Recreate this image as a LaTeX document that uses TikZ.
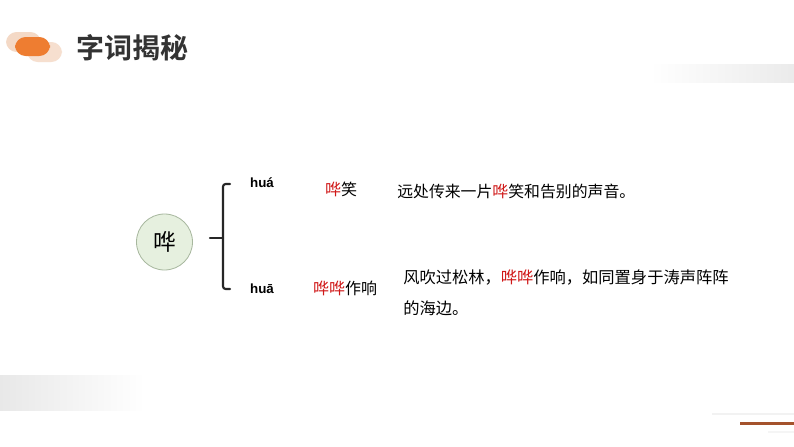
\documentclass[tikz,border=0pt]{standalone}
\usepackage{fontspec}
\setmainfont{Liberation Sans}
\newfontfamily\cjk{Noto Sans CJK SC}
\newfontfamily\cjkb{Noto Sans CJK SC Bold}
\usetikzlibrary{shapes.geometric}
\definecolor{hred}{HTML}{D01818}
\definecolor{orng}{HTML}{EE7D31}
\definecolor{peach}{HTML}{F4D9C6}
\definecolor{brownline}{HTML}{A4522C}
\definecolor{title}{HTML}{333333}
\definecolor{circfill}{HTML}{E6F0DF}
\definecolor{circline}{HTML}{A7B79E}
\tikzset{
  pinyin/.style={font=\bfseries\fontsize{10}{12}\selectfont, text=black, inner sep=0pt},
  word/.style={font=\cjk\fontsize{12}{14}\selectfont, text=black, inner sep=0pt},
  sent/.style={font=\cjk\fontsize{12.2}{14}\selectfont, text=black, inner sep=0pt, anchor=west},
  bracestroke/.style={line width=1.6pt, black!85, line cap=round, rounded corners=2pt}
}
\newcommand{\hr}[1]{\textcolor{hred}{#1}}
\begin{document}
\begin{tikzpicture}[x=0.75pt,y=-0.75pt]
\useasboundingbox (0,0) rectangle (794,447);
\fill[white] (0,0) rectangle (794,447);
% decorative bars
\shade[left color=white, right color=black!8] (650,64) rectangle (794,82);
\shade[left color=black!9, right color=white] (0,375) rectangle (145,410);
\fill[black!5] (712,413) rectangle (794,415);
\fill[brownline] (740,421.5) rectangle (794,424.5);
\fill[black!4] (768,431) rectangle (794,433);
% logo
\fill[peach, rounded corners=8pt] (6,32) rectangle (41,52);
\fill[peach!85, rounded corners=8pt] (27,42) rectangle (62,62);
\fill[orng, rounded corners=8pt] (15,37) rectangle (50,56);
\node[font=\cjkb\fontsize{21}{24}\selectfont, text=title, anchor=west, inner sep=0pt] (ttl) at (76,48) {字词揭秘};
% circle
\node[circle, draw=circline, fill=circfill, line width=0.6pt, minimum size=42pt, inner sep=0pt, font=\cjk\fontsize{17}{20}\selectfont] (hua) at (164.5,242) {哗};
% brace
\coordinate (bt) at (230,184);
\coordinate (bb) at (230,289);
\coordinate (bm) at (210,238);
\draw[bracestroke] (bt) -- (223,184) -- (223,289) -- (bb);
\draw[bracestroke] (bm) -- (223,238);
% pinyin
\node[pinyin] (p1) at (262,183) {huá};
\node[pinyin] (p2) at (262,288.5) {huā};
% words
\node[word] (w1) at (341,189) {\hr{哗}笑};
\node[word] (w2) at (345,288) {\hr{哗哗}作响};
% sentences
\node[sent, font=\cjk\fontsize{11.9}{14}\selectfont] (s1) at (397,191) {远处传来一片\hr{哗}笑和告别的声音。};
\node[sent] (s2) at (403,278) {风吹过松林，\hr{哗哗}作响，如同置身于涛声阵阵};
\node[sent] (s3) at (403,308) {的海边。};
\end{tikzpicture}
\end{document}
